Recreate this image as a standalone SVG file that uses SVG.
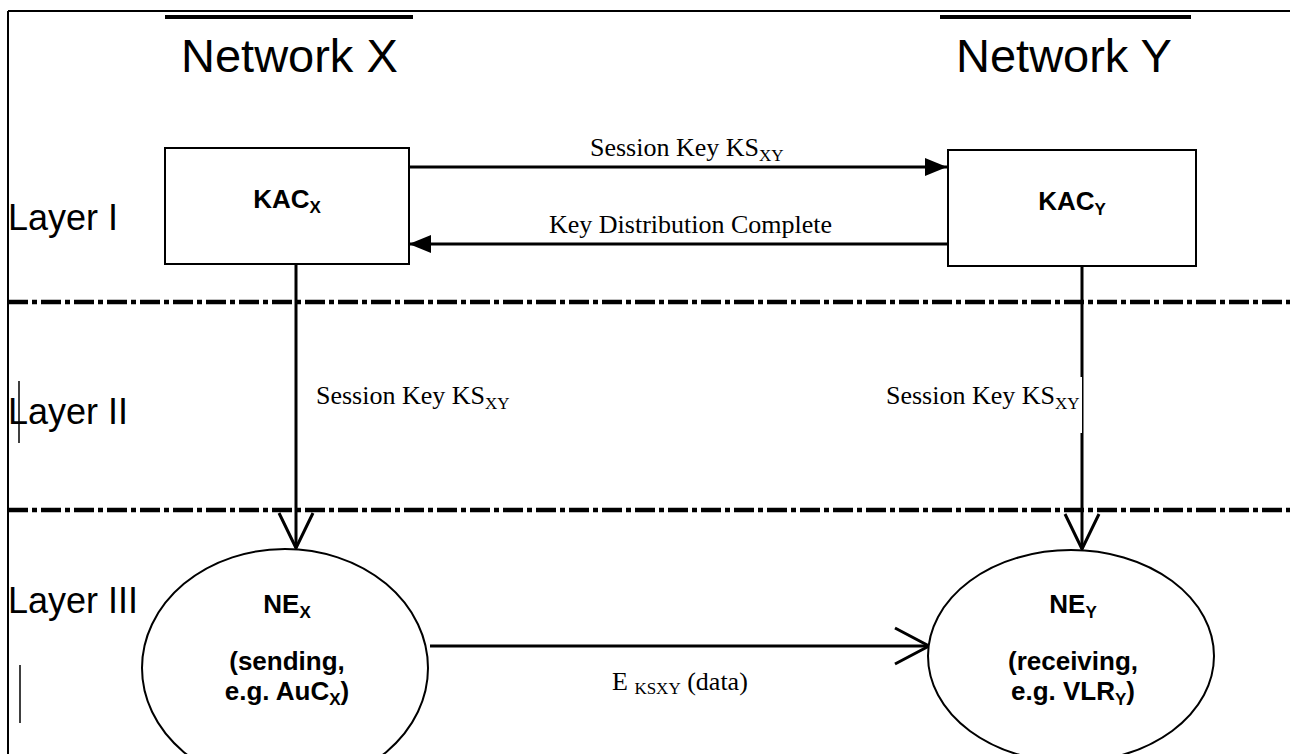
<svg xmlns="http://www.w3.org/2000/svg" width="1290" height="754" viewBox="0 0 1290 754">
<style>
.sans{font-family:"Liberation Sans",Arial,sans-serif;fill:#000}
.serif{font-family:"Liberation Serif","Times New Roman",serif;fill:#000}
.big{font-size:47px}
.layer{font-size:36px}
.lbl{font-size:26px}
.bold{font-size:26px;font-weight:bold}
.box{fill:#fff;stroke:#000;stroke-width:2}
.ell{fill:#fff;stroke:#000;stroke-width:2}
.line{stroke:#000;stroke-width:3;fill:none}
.dash{stroke:#000;stroke-width:4.5;fill:none;stroke-dasharray:20 4 5 4}
</style>
<defs>
<marker id="fill" markerWidth="22" markerHeight="18" refX="22" refY="9" orient="auto" markerUnits="userSpaceOnUse">
<path d="M0,0 L22,9 L0,18 Z" fill="#000"/>
</marker>
</defs>
<rect width="1290" height="754" fill="#fff"/>
<g id="frame">
<line x1="8" y1="11" x2="1290" y2="11" stroke="#000" stroke-width="2"/>
<line x1="8" y1="11" x2="8" y2="754" stroke="#000" stroke-width="2"/>
<line x1="165" y1="17" x2="413" y2="17" stroke="#000" stroke-width="4"/>
<line x1="940" y1="17" x2="1191" y2="17" stroke="#000" stroke-width="4"/>
<line x1="19" y1="381" x2="19" y2="443" stroke="#000" stroke-width="1.5"/>
<line x1="20" y1="665" x2="20" y2="723" stroke="#000" stroke-width="1.5"/>
<line class="dash" x1="8" y1="302" x2="1290" y2="302"/>
<line class="dash" x1="8" y1="510" x2="1290" y2="510"/>
</g>
<g id="titles">
<text class="sans big" x="181" y="72">Network X</text>
<text class="sans big" x="956" y="72">Network Y</text>
<text class="sans layer" x="8" y="230">Layer I</text>
<text class="sans layer" x="8" y="424">Layer II</text>
<text class="sans layer" x="8" y="613">Layer III</text>
</g>
<g id="connectors">
<line class="line" x1="410" y1="167" x2="947" y2="167" marker-end="url(#fill)"/>
<line class="line" x1="947" y1="244" x2="409" y2="244" marker-end="url(#fill)"/>
<line class="line" x1="296" y1="264" x2="296" y2="548"/>
<path class="line" d="M279,513 L296,548 L313,513"/>
<line class="line" x1="1082" y1="266" x2="1082" y2="549"/>
<path class="line" d="M1065,514 L1082,549 L1099,514"/>
<line class="line" x1="430" y1="646" x2="929" y2="646"/>
<path class="line" d="M895,628 L929,646 L895,664"/>
</g>
<g id="labels">
<text class="serif lbl" x="590" y="156">Session Key KS<tspan font-size="17" dy="5">XY</tspan></text>
<text class="serif lbl" x="549" y="233">Key Distribution Complete</text>
<text class="serif lbl" x="316" y="404">Session Key KS<tspan font-size="17" dy="5">XY</tspan></text>
<rect x="884" y="377" width="198" height="56" fill="#fff"/>
<text class="serif lbl" x="886" y="404">Session Key KS<tspan font-size="17" dy="5">XY</tspan></text>
<text class="serif lbl" x="612" y="690">E <tspan font-size="17" dy="4">KSXY</tspan><tspan dy="-4"> (data)</tspan></text>
</g>
<g id="kacx">
<rect class="box" x="165" y="148" width="244" height="116"/>
<text class="sans bold" x="287" y="208" text-anchor="middle">KAC<tspan font-size="17" dy="5">X</tspan></text>
</g>
<g id="kacy">
<rect class="box" x="948" y="150" width="248" height="116"/>
<text class="sans bold" x="1072" y="210" text-anchor="middle">KAC<tspan font-size="17" dy="5">Y</tspan></text>
</g>
<g id="nex">
<ellipse class="ell" cx="285" cy="668" rx="143" ry="119"/>
<text class="sans bold" x="287" y="613" text-anchor="middle">NE<tspan font-size="17" dy="5">X</tspan></text>
<text class="sans bold" x="287" y="670" text-anchor="middle">(sending,</text>
<text class="sans bold" x="287" y="700" text-anchor="middle">e.g. AuC<tspan font-size="17" dy="5">X</tspan><tspan dy="-5">)</tspan></text>
</g>
<g id="ney">
<ellipse class="ell" cx="1071" cy="656" rx="143" ry="106"/>
<text class="sans bold" x="1073" y="613" text-anchor="middle">NE<tspan font-size="17" dy="5">Y</tspan></text>
<text class="sans bold" x="1073" y="670" text-anchor="middle">(receiving,</text>
<text class="sans bold" x="1073" y="700" text-anchor="middle">e.g. VLR<tspan font-size="17" dy="5">Y</tspan><tspan dy="-5">)</tspan></text>
</g>
</svg>
